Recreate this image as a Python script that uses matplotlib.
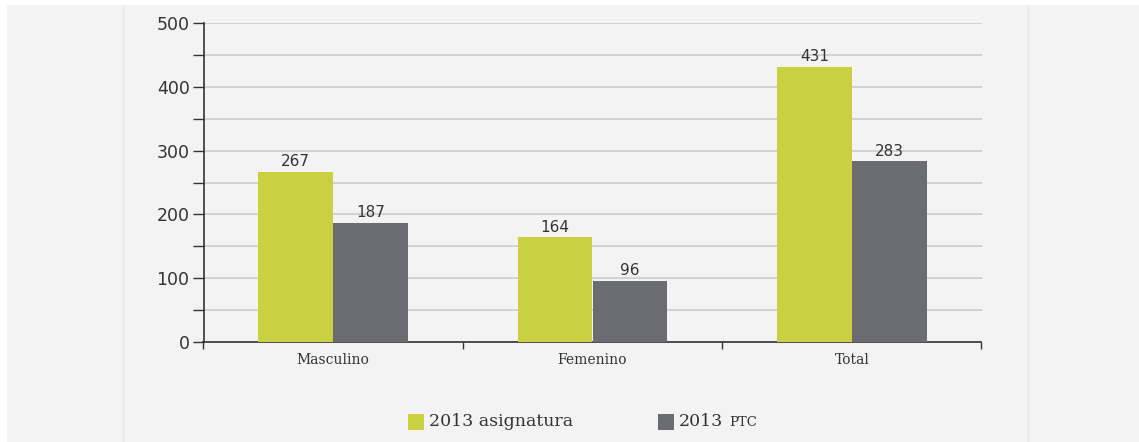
import numpy as np
import matplotlib.pyplot as plt
from matplotlib.patches import Rectangle
from matplotlib.lines import Line2D

# Datos
categorias = ['Masculino', 'Femenino', 'Total']
asignatura = [267, 164, 431]
ptc = [187, 96, 283]

verde = '#c9d143'
gris = '#6b6c70'

fig = plt.figure(figsize=(11.39, 4.42), dpi=100)
fig.patch.set_facecolor('white')

# Panel de fondo gris claro
fig.patches.append(Rectangle((7 / 1139, 0), 1 - 7 / 1139, 1 - 5 / 442,
                             transform=fig.transFigure, facecolor='#f3f3f3',
                             edgecolor='none', zorder=-10))
for xp in (122.5, 1027.5):
    fig.lines.append(Line2D([xp / 1139, xp / 1139], [0, 1 - 5 / 442],
                            transform=fig.transFigure, color='#e6e6e6', lw=1, zorder=-9))

ax = fig.add_axes([203.5 / 1139, 1 - 342 / 442, 778 / 1139, 319 / 442])
ax.set_facecolor('none')

x = np.arange(len(categorias))
w = 0.288
b1 = ax.bar(x - w / 2, asignatura, w, color=verde, zorder=3)
b2 = ax.bar(x + w / 2, ptc, w, color=gris, zorder=3)

for bars, vals in ((b1, asignatura), (b2, ptc)):
    for r, v in zip(bars, vals):
        ax.text(r.get_x() + r.get_width() / 2, v + 4, str(v), ha='center', va='bottom',
                fontsize=11, color='#333333', zorder=4)

ax.set_xlim(-0.5, 2.5)
ax.set_ylim(0, 500)
ax.set_yticks(np.arange(0, 501, 100))
ax.set_yticks(np.arange(50, 500, 100), minor=True)
ax.tick_params(axis='y', which='both', length=8, width=1, color='#333333',
               labelsize=12.5, labelcolor='#333333', pad=2)
ax.yaxis.grid(True, which='both', color='#c8c8c8', lw=1.1, zorder=0)

ax.set_xticks([-0.5, 0.5, 1.5, 2.5])
ax.set_xticklabels([])
ax.set_xticks(x, minor=True)
ax.set_xticklabels(categorias, minor=True, fontsize=10, family='DejaVu Serif', color='#333333')
ax.tick_params(axis='x', which='major', length=5, width=1, color='#333333', direction='out')
ax.tick_params(axis='x', which='minor', length=0, pad=8)

for s in ('top', 'right'):
    ax.spines[s].set_visible(False)
for s in ('left', 'bottom'):
    ax.spines[s].set_color('#333333')
    ax.spines[s].set_linewidth(1.2)

# Leyenda manual
ly = 1 - 422 / 442
fig.patches.append(Rectangle((408 / 1139, ly - 8 / 442), 16 / 1139, 16 / 442,
                             transform=fig.transFigure, facecolor=verde, edgecolor='none'))
fig.text(429 / 1139, ly, '2013 asignatura', fontsize=12.5, family='DejaVu Serif',
         color='#333333', va='center', ha='left')
fig.patches.append(Rectangle((658 / 1139, ly - 8 / 442), 16 / 1139, 16 / 442,
                             transform=fig.transFigure, facecolor=gris, edgecolor='none'))
t = fig.text(679 / 1139, ly, '2013', fontsize=12.5, family='DejaVu Serif',
             color='#333333', va='center', ha='left')
fig.canvas.draw()
bb = t.get_window_extent()
fig.text((bb.x1 + 6) / 1139, ly - 1 / 442, 'PTC', fontsize=9.5, family='DejaVu Serif',
         color='#333333', va='center', ha='left')

plt.savefig('out.png', dpi=100)
